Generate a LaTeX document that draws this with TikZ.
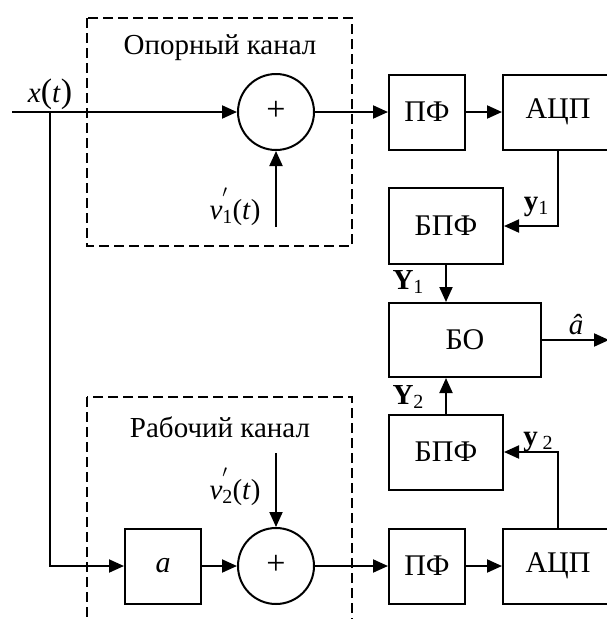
\documentclass[tikz,border=0pt]{standalone}
\usepackage{fontspec}
\setmainfont{Liberation Serif}
\usetikzlibrary{arrows.meta}
\newcommand{\subs}[1]{\raisebox{-0.3ex}{\fontsize{20}{21}\selectfont #1}}
\newcommand{\prm}{\raisebox{1.0ex}{\fontsize{24}{24}\selectfont$'$}}
\tikzset{
  x=1pt,y=-1pt,
  arr/.style={line width=2pt,-{Triangle[length=15pt,width=13pt]}},
  blk/.style={draw,line width=2pt,rectangle,inner sep=0pt,font=\fontsize{30}{32}\selectfont},
  sum/.style={draw,line width=2pt,circle,minimum size=76pt,inner sep=0pt,font=\fontsize{34}{36}\selectfont},
  lbl/.style={inner sep=0pt,font=\fontsize{29}{31}\selectfont},
  dbox/.style={line width=1.6pt,dash pattern=on 10pt off 5pt},
}
\begin{document}
\begin{tikzpicture}
\useasboundingbox (0,0) rectangle (607,619);
\clip (0,0) rectangle (607,619);
% dashed channel frames
\draw[dbox] (87,18) rectangle (352,246);
\draw[dbox] (87,397) rectangle (352,650);
\node[lbl] (t1) at (220,48) {Опорный канал};
\node[lbl] (t2) at (220,427) {Рабочий канал};
% blocks
\node[sum] (s1) at (276,112) {\raisebox{0.1ex}{+}};
\node[blk,minimum width=76pt,minimum height=75pt] (pf1) at (427,112) {ПФ};
\node[blk,minimum width=110pt,minimum height=75pt] (adc1) at (558,112) {АЦП};
\node[blk,minimum width=114pt,minimum height=76pt] (fft1) at (446,226) {БПФ};
\node[blk,minimum width=152pt,minimum height=74pt] (bo) at (465,340) {БО};
\node[blk,minimum width=114pt,minimum height=75pt] (fft2) at (446,452) {БПФ};
\node[blk,minimum width=76pt,minimum height=75pt] (a) at (163,566) {\textit{a}};
\node[sum] (s2) at (276,566) {\raisebox{0.1ex}{+}};
\node[blk,minimum width=76pt,minimum height=75pt] (pf2) at (427,566) {ПФ};
\node[blk,minimum width=110pt,minimum height=75pt] (adc2) at (558,566) {АЦП};
% free ends
\coordinate (in) at (12,112);
\coordinate (br) at (50,112);
\coordinate (v1s) at (276,227);
\coordinate (v2s) at (276,453);
\coordinate (out) at (609,340);
% connectors
\draw[arr] (in) -- (s1);
\draw[arr] (br) |- (a.west);
\draw[arr] (v1s) -- (s1.south);
\draw[arr] (s1) -- (pf1);
\draw[arr] (pf1) -- (adc1);
\draw[arr] (adc1.south) |- (fft1.east);
\draw[arr] (fft1.south) -- (fft1.south |- bo.north);
\draw[arr] (fft2.north) -- (fft2.north |- bo.south);
\draw[arr] (adc2.north) |- (fft2.east);
\draw[arr] (bo.east) -- (out);
\draw[arr] (a) -- (s2);
\draw[arr] (v2s) -- (s2.north);
\draw[arr] (s2) -- (pf2);
\draw[arr] (pf2) -- (adc2);
% labels
\node[lbl] (lx) at (50,94) {\textit{x}{\fontsize{34}{35}\selectfont(}\textit{t}{\fontsize{34}{35}\selectfont)}};
\node[lbl] (lv1) at (235,207) {\textit{v}\rlap{\subs{1}}\prm\,(\textit{t})};
\node[lbl] (lv2) at (235,487) {\textit{v}\rlap{\subs{2}}\prm\,(\textit{t})};
\node[lbl] (ly1) at (536,207) {\textbf{y}\subs{1}};
\node[lbl] (ly2) at (538,442) {\textbf{y}\,\subs{2}};
\node[lbl] (lY1) at (408,282) {\textbf{Y}\subs{1}};
\node[lbl] (lY2) at (408,397) {\textbf{Y}\subs{2}};
\node[lbl] (lah) at (576,325) {\textit{â}};
\end{tikzpicture}
\end{document}
